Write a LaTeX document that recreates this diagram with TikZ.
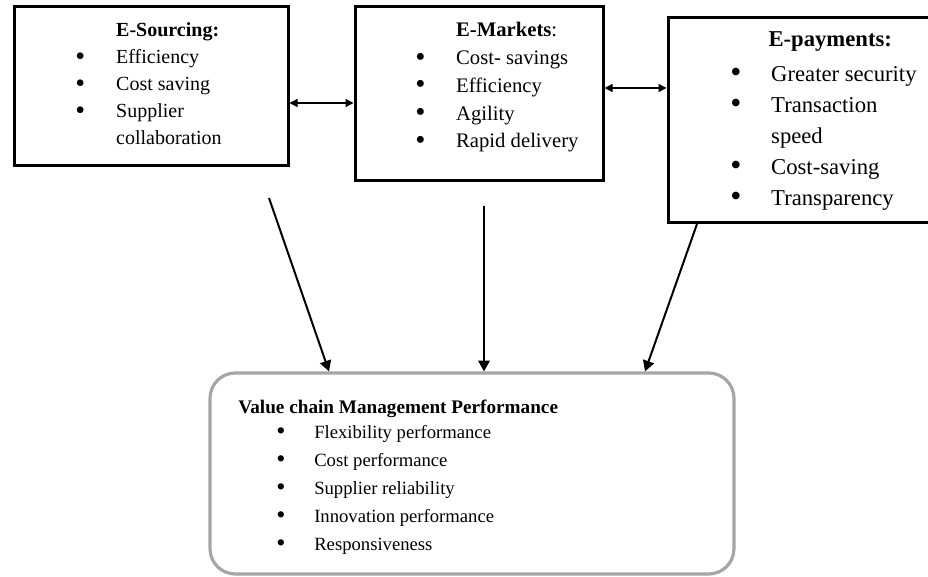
\documentclass[tikz,border=0pt]{standalone}
\usepackage{fontspec}
\setmainfont{Liberation Serif}
\usetikzlibrary{arrows.meta,fit}

\newcommand{\itm}{\raisebox{-0.15ex}{\scalebox{1.4}{\textbullet}}}

\tikzset{
    block/.style={draw=black, line width=2.25pt, inner sep=0pt},
    perfblock/.style={draw=black!35, line width=2.4pt, rounded corners=19pt, inner sep=0pt},
    list/.style={inner sep=0pt, anchor=base west, align=left},
    flow/.style={-{Triangle[length=8pt,width=8.5pt]}, line width=1.5pt},
    link/.style={{Triangle[length=6pt,width=6pt]}-{Triangle[length=6pt,width=6pt]}, line width=1pt},
}

\begin{document}
\begin{tikzpicture}[x=0.75pt, y=-0.75pt]
    % Globals
    \useasboundingbox (0,0) rectangle (928,577);

    \coordinate (ES_NW) at (14,7);
    \coordinate (ES_SE) at (288,166);
    \coordinate (EM_NW) at (355,7);
    \coordinate (EM_SE) at (603,181);
    \coordinate (EP_NW) at (668,18);
    \coordinate (EP_SE) at (945,223);
    \coordinate (VCM_NW) at (210,373);
    \coordinate (VCM_SE) at (734,574);

    \node[block, fit=(ES_NW)(ES_SE)] (ES) {};
    \node[block, fit=(EM_NW)(EM_SE)] (EM) {};
    \node[block, fit=(EP_NW)(EP_SE)] (EP) {};
    \node[perfblock, fit=(VCM_NW)(VCM_SE)] (VCM) {};

    % box texts
    \node[list, font=\fontsize{15}{20.25}\selectfont] (ES_TXT) at (75,37) {%
        \begin{tabular}[t]{@{}p{30.7pt}@{}l@{}}
            & \textbf{E-Sourcing:}\\
            \itm & Efficiency\\
            \itm & Cost saving\\
            \itm & Supplier\\
            & collaboration
        \end{tabular}};
    \node[list, font=\fontsize{15.5}{20.8}\selectfont] (EM_TXT) at (415,37) {%
        \begin{tabular}[t]{@{}p{30.7pt}@{}l@{}}
            & \textbf{E-Markets}:\\
            \itm & Cost- savings\\
            \itm & Efficiency\\
            \itm & Agility\\
            \itm & Rapid delivery
        \end{tabular}};
    \node[list, font=\fontsize{17}{23.25}\selectfont] (EP_TXT) at (730,47) {%
        \begin{tabular}[t]{@{}p{30.7pt}@{}l@{}}
            & \hspace*{-2pt}\textbf{E-payments:}\\[2.5pt]
            \itm & Greater security\\
            \itm & Transaction\\
            & speed\\
            \itm & Cost-saving\\
            \itm & Transparency
        \end{tabular}};
    \node[list, font=\fontsize{14}{21}\selectfont] (VCM_TXT) at (238,413) {%
        \begin{tabular}[t]{@{}p{57pt}@{}l@{}}
            \multicolumn{2}{@{}l@{}}{\fontsize{14.4}{21}\selectfont\textbf{Value chain Management Performance}}\\[-2.25pt]
            \hspace*{28.5pt}\itm & Flexibility performance\\
            \hspace*{28.5pt}\itm & Cost performance\\
            \hspace*{28.5pt}\itm & Supplier reliability\\
            \hspace*{28.5pt}\itm & Innovation performance\\
            \hspace*{28.5pt}\itm & Responsiveness
        \end{tabular}};

    % links between the e-tools
    \coordinate (LINK_A) at (0,103);
    \coordinate (LINK_B) at (0,88);
    \draw[link] (ES.east |- LINK_A) -- (EM.west |- LINK_A);
    \draw[link] (EM.east |- LINK_B) -- (EP.west |- LINK_B);

    % flows into performance
    \coordinate (FLOW_A) at (269,198);
    \coordinate (FLOW_B) at (484,206);
    \coordinate (FLOW_C) at (697,224);
    \coordinate (HIT_A) at (329,0);
    \coordinate (HIT_C) at (645,0);
    \draw[flow] (FLOW_A) -- (VCM.north -| HIT_A);
    \draw[flow] (FLOW_B) -- (VCM.north -| FLOW_B);
    \draw[flow] (FLOW_C) -- (VCM.north -| HIT_C);

\end{tikzpicture}
\end{document}
